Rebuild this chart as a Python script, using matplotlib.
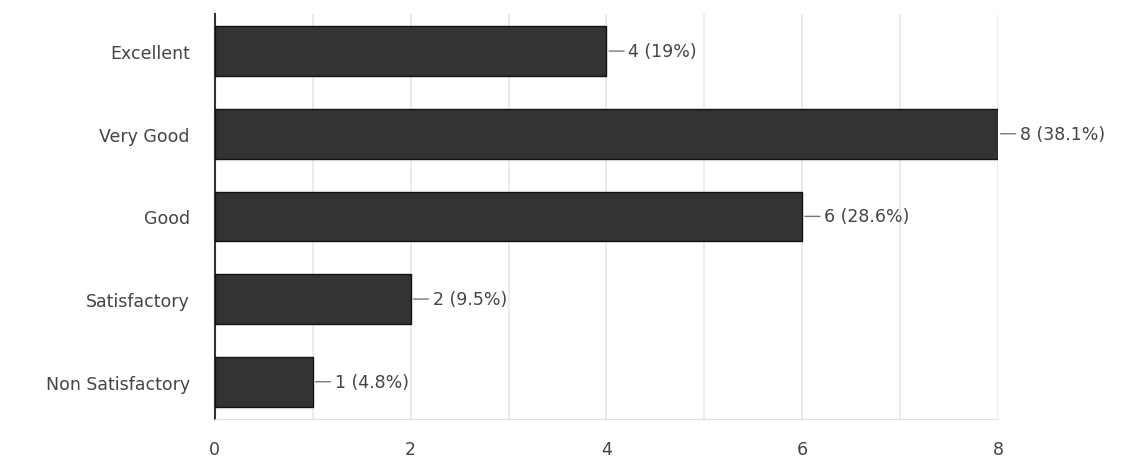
import matplotlib.pyplot as plt

plt.rcParams["font.family"] = ["DejaVu Sans"]

categories = ["Excellent", "Very Good", "Good", "Satisfactory", "Non Satisfactory"]
counts = [4, 8, 6, 2, 1]
percents = ["19%", "38.1%", "28.6%", "9.5%", "4.8%"]
xticks = [0, 2, 4, 6, 8]

fig = plt.figure(figsize=(11.25, 4.64), dpi=100)
ax = fig.add_axes([0.191, 0.095, 0.696, 0.873])

ax.barh(categories, counts, height=0.6, color="#333333", edgecolor="#111111", linewidth=1, zorder=3)

# value labels with a short leader line
for i, (c, p) in enumerate(zip(counts, percents)):
    ax.annotate(f"{c} ({p})", xy=(c, i), xytext=(22, 0), textcoords="offset pixels",
                va="center", ha="left", fontsize=12.5, color="#444444",
                arrowprops=dict(arrowstyle="-", color="#777777", lw=1, shrinkA=1, shrinkB=2),
                annotation_clip=False)

ax.set_xlim(0, 8)
ax.set_ylim(4.45, -0.45)
ax.set_xticks(xticks)
ax.set_xticks(range(0, 9), minor=True)
ax.grid(axis="x", which="both", color="#e8e8e8", lw=1.2, zorder=0)
ax.tick_params(axis="both", which="both", length=0, labelsize=12.5, labelcolor="#444444")
ax.tick_params(axis="y", pad=18)
ax.tick_params(axis="x", pad=15)

for s in ["top", "right"]:
    ax.spines[s].set_visible(False)
ax.spines["left"].set_color("#333333")
ax.spines["left"].set_linewidth(1.5)
ax.spines["bottom"].set_color("#e0e0e0")

fig.savefig("out.png", dpi=100)
